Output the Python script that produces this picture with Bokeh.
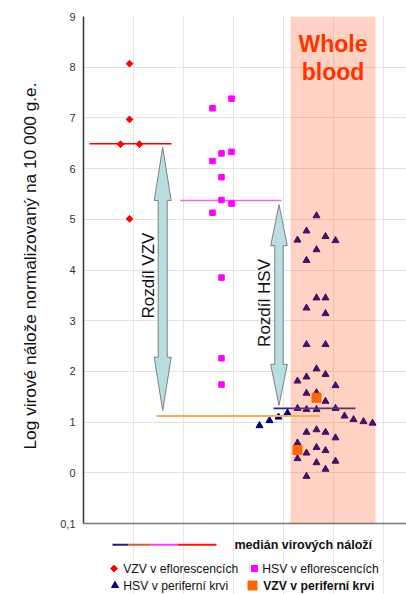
import math
from bokeh.plotting import figure
from bokeh.models import Range1d, FixedTicker, Span, Title
from bokeh.embed import file_html
from bokeh.resources import INLINE
from bokeh.core.properties import value

# ---------------- data ----------------
y_ticks = [-1, 0, 1, 2, 3, 4, 5, 6, 7, 8, 9]
y_tick_labels = ["0,1", "0", "1", "2", "3", "4", "5", "6", "7", "8", "9"]
y_label = "Log virové nálože normalizovaný na 10 000 g.e."

# VZV v eflorescencích (red diamonds)
vzv_eflo_x = [4.6, 4.6, 3.7, 5.6, 4.6]
vzv_eflo_y = [8.07, 6.97, 6.48, 6.48, 5.01]

# HSV v eflorescencích (magenta squares)
hsv_eflo_x = [12.9, 14.8, 12.9, 13.8, 14.8, 13.8, 13.8, 14.8, 12.9, 13.8, 13.8, 13.8]
hsv_eflo_y = [7.19, 7.38, 6.15, 6.30, 6.33, 5.83, 5.38, 5.31, 5.13, 3.85, 2.26, 1.74]

# HSV v periferní krvi (navy triangles)
hsv_blood_x = [23.3, 22.3, 21.4, 24.2, 25.2, 23.3, 22.3,
               23.3, 24.2, 22.3, 24.2,
               22.3, 24.2,
               23.3, 22.3, 24.2, 21.4, 25.2,
               22.3, 23.3, 24.2,
               21.4, 22.3, 23.3, 25.2,
               26.1, 27.0, 28.0, 28.9,
               17.6, 18.6, 19.5, 20.4,
               22.3, 23.3, 24.2, 25.2,
               21.4, 22.3, 23.3, 24.2,
               21.4, 23.3, 24.2, 25.2, 22.3]
hsv_blood_y = [5.07, 4.77, 4.59, 4.66, 4.58, 4.40, 4.19,
               3.45, 3.45, 3.25, 3.14,
               2.53, 2.53,
               2.05, 1.89, 1.94, 1.81, 1.72,
               1.57, 1.58, 1.41,
               1.27, 1.25, 1.25, 1.27,
               1.12, 1.05, 1.01, 0.98,
               0.93, 1.03, 1.10, 1.18,
               0.80, 0.85, 0.80, 0.69,
               0.59, 0.39, 0.50, 0.44,
               0.28, 0.20, 0.07, 0.23, -0.07]

# VZV v periferní krvi (orange squares)
vzv_blood_x = [23.3, 21.4]
vzv_blood_y = [1.48, 0.45]

# medians: (x0, x1, y)
med_vzv_eflo = (0.6, 8.8, 6.49)
med_hsv_eflo = (9.7, 19.8, 5.37)
med_vzv_blood = (7.3, 23.6, 1.12)
med_hsv_blood = (19.0, 27.2, 1.27)

# whole blood band
band_left, band_right = 20.7, 29.2

# difference arrows: center x, top tip, bottom tip, head length (y units)
arrow_vzv = (7.92, 6.42, 1.23, 1.05)
arrow_hsv = (19.55, 5.29, 1.33, 0.81)

legend_labels = ["VZV v eflorescencích", "HSV v eflorescencích",
                 "HSV v periferní krvi", "VZV v periferní krvi"]
legend_median = "medián virových náloží"
legend_line_colors = ["#202080", "#C8643C", "#F040F0", "#FF1010"]

FONT = "Liberation Sans"

# ---------------- figure ----------------
Y_MIN_AXIS, Y_MAX = -1, 9
PX_PER_UNIT = 50.7
W, H = 406, 594
BORDER_L, BORDER_T = 83, 16
FRAME_W = W - BORDER_L
FRAME_H = H - BORDER_T
y_start = Y_MAX - FRAME_H / PX_PER_UNIT
x_end = FRAME_W / 10.0

p = figure(width=W, height=H, output_backend="svg", toolbar_location=None,
           x_range=Range1d(0, x_end), y_range=Range1d(y_start, Y_MAX),
           x_axis_location=None,
           min_border_left=BORDER_L, min_border_right=0,
           min_border_top=BORDER_T, min_border_bottom=0)
p.outline_line_color = None
p.background_fill_color = "white"
p.border_fill_color = "white"

p.yaxis.ticker = FixedTicker(ticks=y_ticks)
p.yaxis.bounds = (Y_MIN_AXIS, Y_MAX)
p.yaxis.major_label_overrides = {t: l for t, l in zip(y_ticks, y_tick_labels)}
p.yaxis.major_tick_out = 0
p.yaxis.major_tick_in = 0
p.yaxis.minor_tick_line_color = None
p.yaxis.major_label_standoff = 8
p.yaxis.major_label_text_font = FONT
p.yaxis.major_label_text_font_size = "11px"
p.yaxis.major_label_text_color = "#333333"
p.yaxis.axis_line_color = "#333333"
p.yaxis.axis_line_width = 1.5

p.ygrid.grid_line_color = "#E2E2E2"
p.ygrid.grid_line_width = 1

# y axis title (as a side title so it can be positioned along the axis)
p.add_layout(Title(text=y_label, align="left", offset=145, standoff=32,
                   vertical_align="top",
                   text_font=FONT, text_font_size="17.3px",
                   text_font_style="normal", text_color="#111111"), "left")

# triangles and their median under the translucent band
p.scatter(hsv_blood_x, hsv_blood_y, marker="triangle", size=7,
          fill_color="#000080", line_color="#000080")
p.segment(x0=[med_hsv_blood[0]], x1=[med_hsv_blood[1]],
          y0=[med_hsv_blood[2]], y1=[med_hsv_blood[2]],
          line_color="#2A2A8A", line_width=1.6)

p.quad(left=[band_left], right=[band_right], bottom=[Y_MIN_AXIS], top=[Y_MAX],
       fill_color="#FF4A10", fill_alpha=0.25, line_color=None)

# x axis line at the bottom of the data area
p.add_layout(Span(location=Y_MIN_AXIS, dimension="width",
                  line_color="#777777", line_width=1.5))

# other medians
p.segment(x0=[med_vzv_eflo[0]], x1=[med_vzv_eflo[1]],
          y0=[med_vzv_eflo[2]], y1=[med_vzv_eflo[2]],
          line_color="#FF0000", line_width=1.5)
p.segment(x0=[med_hsv_eflo[0]], x1=[med_hsv_eflo[1]],
          y0=[med_hsv_eflo[2]], y1=[med_hsv_eflo[2]],
          line_color="#EE66EE", line_width=1.5)
p.segment(x0=[med_vzv_blood[0]], x1=[med_vzv_blood[1]],
          y0=[med_vzv_blood[2]], y1=[med_vzv_blood[2]],
          line_color="#FFAA55", line_width=1.8)


def arrow_poly(cx, top, bottom, head, shaft_half=0.45, head_half=0.85):
    xs = [cx, cx - head_half, cx - shaft_half, cx - shaft_half, cx - head_half,
          cx, cx + head_half, cx + shaft_half, cx + shaft_half, cx + head_half]
    ys = [top, top - head, top - head, bottom + head, bottom + head,
          bottom, bottom + head, bottom + head, top - head, top - head]
    return xs, ys


ax1, ay1 = arrow_poly(*arrow_vzv)
ax2, ay2 = arrow_poly(*arrow_hsv, shaft_half=0.42, head_half=0.83)
p.patches(xs=[ax1, ax2], ys=[ay1, ay2], fill_color="#B8DEE2",
          line_color="#808080", line_width=1)

p.text(x=[6.53, 18.07], y=[3.89, 3.35], text=["Rozdíl VZV", "Rozdíl HSV"],
       angle=math.pi / 2, text_align="center", text_baseline="middle",
       text_font=value(FONT), text_font_size=value("17px"), text_color="#111111")

# points
p.scatter(vzv_eflo_x, vzv_eflo_y, marker="square", angle=math.pi / 4, size=4.8,
          fill_color="#FF0000", line_color="#FF0000")
p.scatter(hsv_eflo_x, hsv_eflo_y, marker="square", size=5.5,
          fill_color="#FF00FF", line_color="#FF00FF")
p.scatter(vzv_blood_x, vzv_blood_y, marker="square", size=9,
          fill_color="#FF6600", line_color="#FF6600")

# band title
p.text(x=[(band_left + band_right) / 2] * 2, y=[8.45, 7.91],
       text=["Whole", "blood"], text_align="center", text_baseline="alphabetic",
       text_font=value(FONT), text_font_size=value("23px"),
       text_font_style="bold", text_color="#FF3300")

# ---------------- legend (below the data area) ----------------
r1, r2, r3 = -1.42, -1.888, -2.223
p.segment(x0=[2.9, 4.5, 6.7, 9.4], x1=[4.5, 6.7, 9.4, 13.3],
          y0=[r1] * 4, y1=[r1] * 4, line_color=legend_line_colors, line_width=2)
p.text(x=[15.1], y=[r1], text=[legend_median], text_baseline="middle",
       text_font=value(FONT), text_font_size=value("12.5px"),
       text_font_style="bold", text_color="#111111")

p.scatter([3.05], [r2], marker="square", angle=math.pi / 4, size=4.8,
          color="#FF0000")
p.scatter([17.1], [r2], marker="square", size=6, color="#FF00FF")
p.scatter([3.15], [r3], marker="triangle", size=7, color="#000080")
p.scatter([16.9], [r3], marker="square", size=9, color="#FF6600")

p.text(x=[3.97, 17.87, 3.97], y=[r2, r2, r3],
       text=[legend_labels[0], legend_labels[1], legend_labels[2]],
       text_baseline="middle", text_font=value(FONT),
       text_font_size=value("12.2px"), text_color="#111111")
p.text(x=[17.97], y=[r3], text=[legend_labels[3]], text_baseline="middle",
       text_font=value(FONT), text_font_size=value("12.2px"),
       text_font_style="bold", text_color="#111111")

open("out.html", "w").write(file_html(p, INLINE))
